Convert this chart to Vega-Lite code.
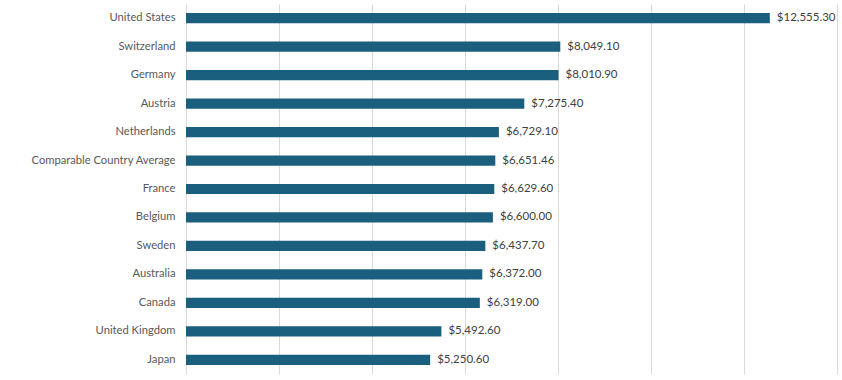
{
  "$schema": "https://vega.github.io/schema/vega-lite/v6.json",
  "width": 651,
  "height": 370,
  "autosize": {"type": "none"},
  "padding": {"left": 186, "top": 4, "right": 5, "bottom": 6},
  "background": "white",
  "config": {"view": {"stroke": null}, "font": "Lato"},
  "data": {"values": [
    {"country": "United States", "value": 12555.30},
    {"country": "Switzerland", "value": 8049.10},
    {"country": "Germany", "value": 8010.90},
    {"country": "Austria", "value": 7275.40},
    {"country": "Netherlands", "value": 6729.10},
    {"country": "Comparable Country Average", "value": 6651.46},
    {"country": "France", "value": 6629.60},
    {"country": "Belgium", "value": 6600.00},
    {"country": "Sweden", "value": 6437.70},
    {"country": "Australia", "value": 6372.00},
    {"country": "Canada", "value": 6319.00},
    {"country": "United Kingdom", "value": 5492.60},
    {"country": "Japan", "value": 5250.60}
  ]},
  "encoding": {
    "y": {"field": "country", "type": "nominal", "sort": null,
      "scale": {"paddingInner": 0.64, "paddingOuter": 0.32},
      "axis": {"title": null, "ticks": false, "domain": false, "labelPadding": 11, "labelFontSize": 11.2, "labelColor": "#595959", "labelFont": "Lato"}},
    "x": {"field": "value", "type": "quantitative",
      "scale": {"domain": [0, 14000], "nice": false},
      "axis": {"title": null, "labels": false, "ticks": false, "domain": false, "values": [0,2000,4000,6000,8000,10000,12000,14000], "gridColor": "#d9d9d9", "gridWidth": 1}}
  },
  "layer": [
    {"mark": {"type": "bar", "color": "#1a5f7e"}},
    {"mark": {"type": "text", "align": "left", "dx": 7, "fontSize": 11.5, "color": "#404040", "font": "Lato"},
     "encoding": {"text": {"field": "value", "type": "quantitative", "format": "$,.2f"}}}
  ]
}
